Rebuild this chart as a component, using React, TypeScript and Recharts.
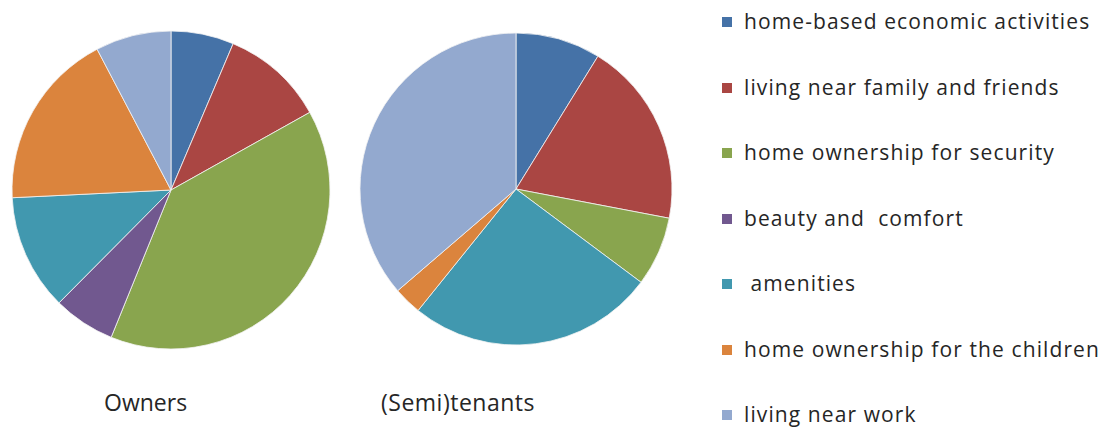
import { PieChart, Pie, Cell } from 'recharts';

const categories = [
  'home-based economic activities',
  'living near family and friends',
  'home ownership for security',
  'beauty and  comfort',
  ' amenities',
  'home ownership for the children',
  'living near work',
];

const colors = ['#4572A7', '#AA4643', '#89A54E', '#71588F', '#4198AF', '#DB843D', '#93A9CF'];

const ownersValues = [6.4, 10.5, 39.3, 6.3, 11.8, 18.1, 7.7];
const tenantsValues = [8.8, 19.2, 7.2, 0, 25.6, 2.9, 36.3];

const pieTitles = ['Owners', '(Semi)tenants'];

const ownersData = categories.map((name, i) => ({ name, value: ownersValues[i] }));
const tenantsData = categories.map((name, i) => ({ name, value: tenantsValues[i] }));

const font = '"Open Sans", "Liberation Sans", sans-serif';

function LegendList() {
  return (
    <div style={{ position: 'absolute', left: 722, top: 5, fontFamily: font }}>
      {categories.map((name, i) => (
        <div
          key={name}
          style={{ height: 65.5, display: 'flex', alignItems: 'flex-start', fontSize: 21, letterSpacing: 1.1, color: '#262626', whiteSpace: 'pre' }}
        >
          <span style={{ width: 10, height: 10, background: colors[i], display: 'inline-block', marginTop: 12, marginRight: 12 }} />
          <span style={{ lineHeight: '34px', marginTop: -1 }}>{name}</span>
        </div>
      ))}
    </div>
  );
}

export default function App() {
  return (
    <div style={{ position: 'absolute', left: 0, top: 0, width: 1104, height: 430, background: '#fff' }}>
      <PieChart width={700} height={430} margin={{ top: 0, right: 0, bottom: 0, left: 0 }}>
        <Pie
          data={ownersData}
          dataKey="value"
          cx={171}
          cy={190}
          outerRadius={159}
          startAngle={90}
          endAngle={-270}
          stroke="#f4f4f4"
          strokeWidth={0.8}
          isAnimationActive={false}
        >
          {ownersData.map((d, i) => (
            <Cell key={d.name} fill={colors[i]} />
          ))}
        </Pie>
        <Pie
          data={tenantsData}
          dataKey="value"
          cx={516}
          cy={189}
          outerRadius={156}
          startAngle={90}
          endAngle={-270}
          stroke="#f4f4f4"
          strokeWidth={0.8}
          isAnimationActive={false}
        >
          {tenantsData.map((d, i) => (
            <Cell key={d.name} fill={colors[i]} />
          ))}
        </Pie>
      </PieChart>
      <div style={{ position: 'absolute', left: 104, top: 386, fontFamily: font, fontSize: 23, color: '#262626' }}>{pieTitles[0]}</div>
      <div style={{ position: 'absolute', left: 381, top: 386, fontFamily: font, fontSize: 23, letterSpacing: 0.5, color: '#262626' }}>{pieTitles[1]}</div>
      <LegendList />
    </div>
  );
}
